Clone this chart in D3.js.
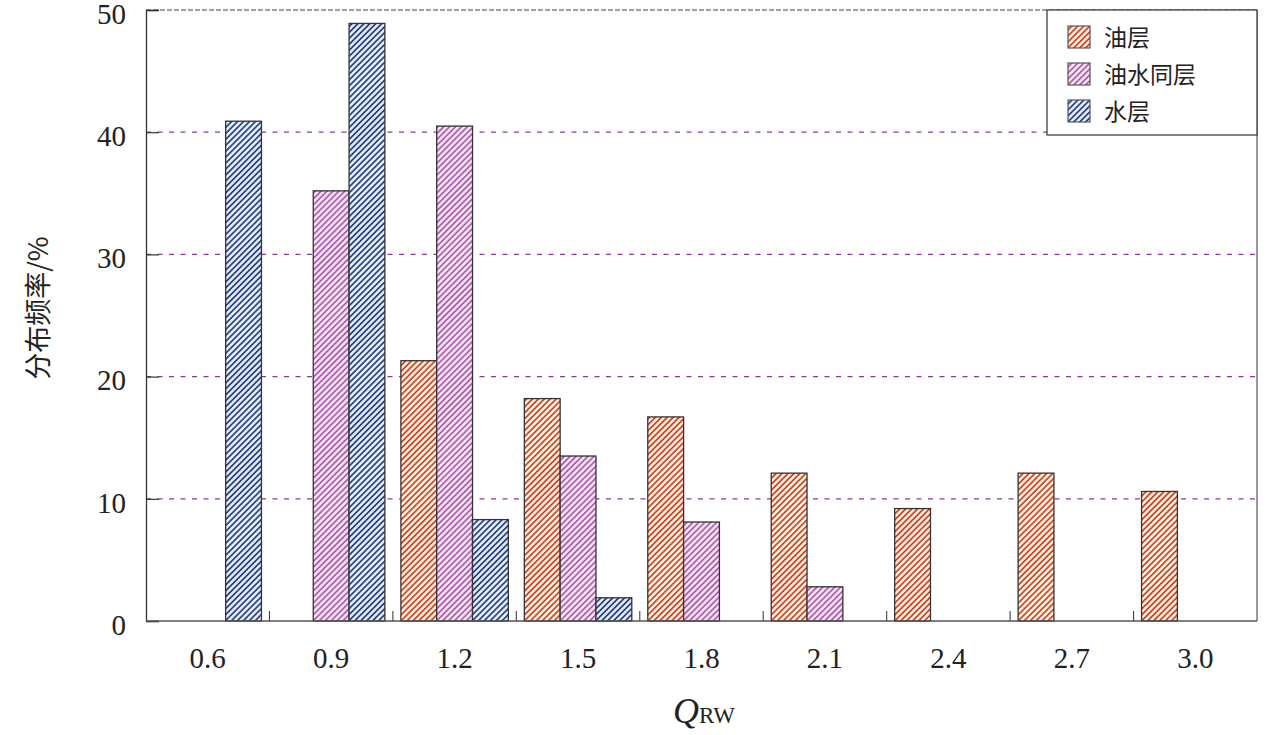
<!DOCTYPE html>
<html>
<head>
<meta charset="utf-8">
<script src="https://cdnjs.cloudflare.com/ajax/libs/d3/7.8.5/d3.min.js"></script>
<style>
  body { margin: 0; background: #fff; }
  svg text { font-family: "Liberation Serif", "DejaVu Serif", serif; }
</style>
</head>
<body>
<div id="chart"></div>
<script>
// data
let categories = ["0.6", "0.9", "1.2", "1.5", "1.8", "2.1", "2.4", "2.7", "3.0"];
let seriesNames = ["油层", "油水同层", "水层"];
let oilLayer   = [0, 0, 21.3, 18.2, 16.7, 12.1, 9.2, 12.1, 10.6];
let oilWater   = [0, 35.2, 40.5, 13.5, 8.1, 2.8, 0, 0, 0];
let waterLayer = [40.9, 48.9, 8.3, 1.9, 0, 0, 0, 0, 0];
let yTicks = [0, 10, 20, 30, 40, 50];

let series = [oilLayer, oilWater, waterLayer];
let hatch = [
  {bg: "#fdf3da", fg: "#d2402e"},
  {bg: "#f9e4f4", fg: "#ae5cb2"},
  {bg: "#e0eefb", fg: "#2f3f80"}
];

let width = 1272, height = 735,
    margin = {top: 10, right: 15, bottom: 114, left: 146};
let innerW = width - margin.left - margin.right,
    innerH = height - margin.top - margin.bottom;

let svg = d3.select("#chart").append("svg")
    .attr("width", width)
    .attr("height", height);

// hatch patterns
let defs = svg.append("defs");
hatch.forEach(function (h, i) {
  let p = defs.append("pattern")
      .attr("id", "hatch" + i)
      .attr("patternUnits", "userSpaceOnUse")
      .attr("width", 4.2)
      .attr("height", 4.2)
      .attr("patternTransform", "rotate(45)");
  p.append("rect").attr("width", 4.2).attr("height", 4.2).attr("fill", h.bg);
  p.append("rect").attr("width", 1.7).attr("height", 4.2).attr("fill", h.fg);
});

let g = svg.append("g")
    .attr("transform", "translate(" + margin.left + "," + margin.top + ")");

let x0 = d3.scaleBand().domain(categories).range([0, innerW]);
let x1 = d3.scaleBand().domain([0, 1, 2]).range([8, x0.bandwidth() - 8]);
let y = d3.scaleLinear().domain([0, 50]).range([innerH, 0]);

// grid lines
g.selectAll(".grid")
  .data([10, 20, 30, 40])
  .enter().append("line")
    .attr("x1", 0).attr("x2", innerW)
    .attr("y1", d => y(d)).attr("y2", d => y(d))
    .attr("stroke", "#8b3a9c")
    .attr("stroke-width", 1.2)
    .attr("stroke-dasharray", "5,6.5");

// top border dashed, right border solid
g.append("line")
    .attr("x1", 0).attr("x2", innerW)
    .attr("y1", y(50)).attr("y2", y(50))
    .attr("stroke", "#444").attr("stroke-width", 1.2)
    .attr("stroke-dasharray", "5,2");
g.append("line")
    .attr("x1", innerW).attr("x2", innerW)
    .attr("y1", y(50)).attr("y2", y(0))
    .attr("stroke", "#555").attr("stroke-width", 1.2);

// bars
let groups = g.selectAll(".grp")
  .data(categories)
  .enter().append("g")
    .attr("transform", d => "translate(" + x0(d) + ",0)");

groups.selectAll("rect")
  .data((d, i) => series.map((s, k) => ({k: k, v: s[i]})).filter(e => e.v > 0))
  .enter().append("rect")
    .attr("x", d => x1(d.k))
    .attr("y", d => y(d.v))
    .attr("width", x1.bandwidth())
    .attr("height", d => y(0) - y(d.v))
    .attr("fill", d => "url(#hatch" + d.k + ")")
    .attr("stroke", "#333")
    .attr("stroke-width", 1.3);

// y axis
let yAxis = g.append("g")
    .call(d3.axisLeft(y).tickValues(yTicks).tickSize(-13).tickPadding(20).tickFormat(d3.format("d")));
yAxis.select(".domain").attr("stroke", "#333").attr("stroke-width", 1.3);
yAxis.selectAll(".tick line").attr("stroke", "#333").attr("stroke-width", 1.2);
yAxis.selectAll(".tick text")
    .attr("font-size", 29)
    .attr("dy", "0.46em")
    .attr("fill", "#222")
    .style("font-family", "'Liberation Serif', serif");

// x axis: boundary ticks and centered labels
g.append("line")
    .attr("x1", 0).attr("x2", innerW)
    .attr("y1", innerH).attr("y2", innerH)
    .attr("stroke", "#555").attr("stroke-width", 1.3);
g.selectAll(".xtick")
  .data(categories.slice(1))
  .enter().append("line")
    .attr("x1", d => x0(d)).attr("x2", d => x0(d))
    .attr("y1", innerH).attr("y2", innerH - 10)
    .attr("stroke", "#444").attr("stroke-width", 1.1);
g.selectAll(".xlab")
  .data(categories)
  .enter().append("text")
    .attr("x", d => x0(d) + x0.bandwidth() / 2)
    .attr("y", innerH + 47)
    .attr("text-anchor", "middle")
    .attr("font-size", 29)
    .attr("fill", "#222")
    .text(d => d);

// axis titles
let xt = svg.append("text")
    .attr("x", 704)
    .attr("y", 723)
    .attr("text-anchor", "middle")
    .attr("fill", "#222");
xt.append("tspan").attr("font-style", "italic").attr("font-size", 36).text("Q");
xt.append("tspan").attr("font-size", 23).text("RW");

svg.append("text")
    .attr("transform", "translate(48,308) rotate(-90)")
    .attr("text-anchor", "middle")
    .attr("font-size", 27)
    .attr("fill", "#222")
    .style("font-family", "'Noto Sans CJK SC', sans-serif")
    .text("分布频率/%");

// legend
let lg = svg.append("g").attr("transform", "translate(1047,10)");
lg.append("rect")
    .attr("width", 210).attr("height", 125)
    .attr("fill", "#fff")
    .attr("stroke", "#333").attr("stroke-width", 1.2);
seriesNames.forEach(function (name, i) {
  let row = lg.append("g").attr("transform", "translate(0," + (16 + i * 37) + ")");
  row.append("rect")
      .attr("x", 21).attr("y", 0)
      .attr("width", 22).attr("height", 22)
      .attr("fill", "url(#hatch" + i + ")")
      .attr("stroke", "#555").attr("stroke-width", 1.2);
  row.append("text")
      .attr("x", 57).attr("y", 20)
      .attr("font-size", 23)
      .attr("fill", "#222")
      .style("font-family", "'Noto Sans CJK SC', sans-serif")
      .text(name);
});
</script>
</body>
</html>
